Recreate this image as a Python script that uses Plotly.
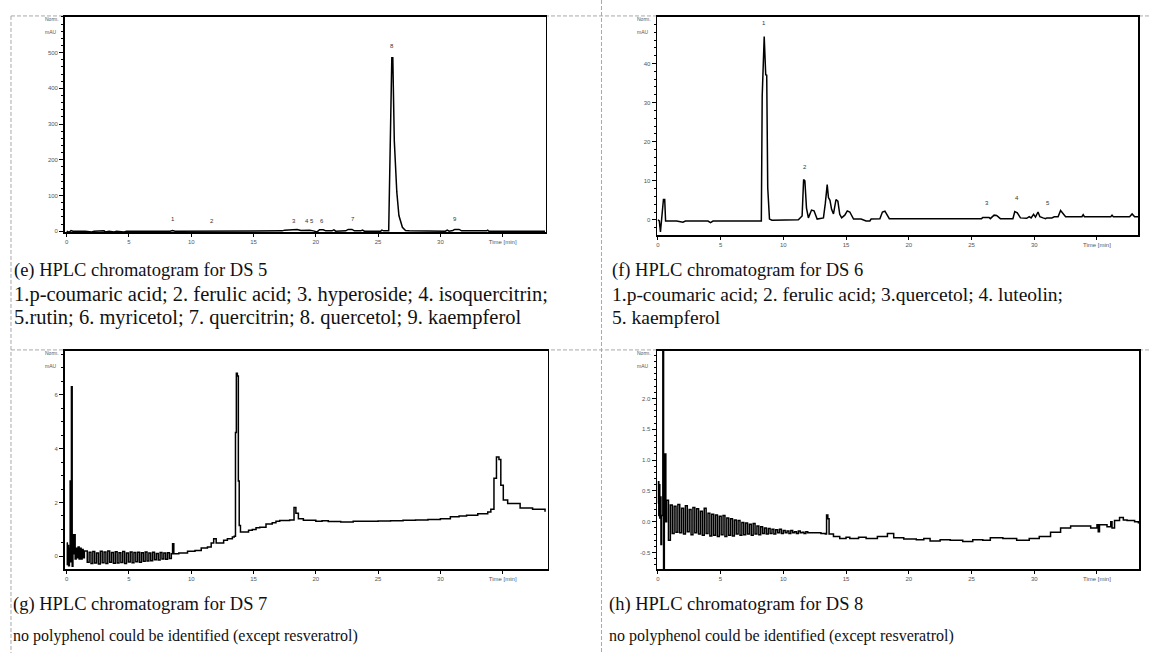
import plotly.graph_objects as go

W, H = 1151, 655

# ------------------------------------------------------------------ data
# (e) DS 5 : (time [min], signal [mAU])
ds5_points = [
    (0.0, 0), (0.2, -3), (0.35, 2), (0.5, 0), (1.5, 0), (2.0, -2), (2.2, 0), (3.0, 1),
    (3.1, -2), (3.4, 0), (3.8, -2), (4.0, 0), (4.6, -2), (4.8, 0), (8.3, 0), (8.5, 2),
    (8.7, 0), (11.5, 0), (11.65, 1.5), (11.8, 0), (13.0, 1), (17.3, 1), (17.5, 3),
    (18.2, 3), (18.5, 5), (18.8, 2), (19.5, 3), (19.8, 1), (20.1, -2), (20.3, 4),
    (20.6, 4), (20.8, 1), (21.3, 1), (21.45, 4), (21.6, 0), (22.4, 1), (22.6, 5),
    (22.9, 5), (23.1, 1), (23.6, 1), (23.75, 3), (23.9, 0), (25.2, 0), (25.3, 3),
    (25.45, 1), (25.85, 1), (25.95, 230), (26.1, 486), (26.18, 486), (26.3, 253),
    (26.5, 110), (26.67, 44), (26.95, 11), (27.2, 2), (27.5, 1), (29.5, 1), (29.7, -1),
    (30.4, 0), (30.55, 3), (30.7, 0), (31.0, 2), (31.15, 5), (31.5, 5), (31.7, 1),
    (33.7, 1), (33.8, 3), (33.9, 0), (38.4, 0),
]
ds5_peak_ids = ["1", "2", "3", "4", "5", "6", "7", "8", "9"]
ds5_peak_t = [8.5, 11.65, 18.25, 19.27, 19.7, 20.47, 22.95, 26.15, 31.15]
ds5_peak_y = [20, 16, 16, 16, 16, 16, 20, 505, 20]

# (f) DS 6
ds6_points = [
    (0.0, 0), (0.12, -0.3), (0.21, -3.1), (0.3, -0.5), (0.45, 5.2), (0.55, 5.2),
    (0.62, -0.3), (1.5, -0.3), (2.0, -0.6), (2.2, -0.3), (4.0, -0.3), (4.2, -0.7),
    (4.4, -0.3), (8.25, -0.3), (8.32, 31.6), (8.48, 46.9), (8.6, 37.1), (8.68, 37.0),
    (8.76, 8.2), (8.9, 0.2), (9.1, -0.1), (11.2, 0), (11.5, 1.0), (11.62, 10.3),
    (11.72, 10.0), (11.85, 3.0), (12.0, 0.5), (12.25, 2.5), (12.45, 2.3), (12.7, 0.2),
    (13.2, 0.5), (13.35, 4.2), (13.5, 9.0), (13.6, 5.7), (13.72, 5.0), (13.85, 2.7),
    (14.0, 1.5), (14.2, 5.2), (14.35, 4.8), (14.5, 1.4), (14.65, 0.5), (14.9, 1.2),
    (15.1, 2.3), (15.3, 2.0), (15.6, 0.2), (16.2, 0.2), (16.6, -0.3), (16.9, -0.3),
    (17.0, 0.2), (17.7, 0.3), (17.9, 2.0), (18.1, 2.2), (18.3, 1.0), (18.45, 0.3),
    (25.8, 0.3), (25.9, 0.6), (26.4, 0.6), (26.5, 0.3), (26.8, 1.2), (27.0, 1.1),
    (27.3, 0.3), (28.3, 0.3), (28.45, 2.1), (28.65, 1.8), (28.9, 0.5), (29.4, 0.4),
    (29.6, 0.8), (29.75, 0.5), (29.95, 1.4), (30.1, 0.7), (30.3, 2.0), (30.45, 0.8),
    (30.7, 0.5), (30.9, 0.3), (31.0, 0.5), (31.4, 0.5), (31.6, 0.8), (31.9, 0.8),
    (32.1, 2.4), (32.3, 1.5), (32.5, 0.8), (33.8, 0.8), (33.9, 1.3), (34.0, 0.8),
    (36.1, 0.8), (36.2, 1.2), (36.3, 0.8), (37.6, 0.8), (37.8, 1.5), (38.0, 0.8),
    (38.3, 0.8),
]
ds6_peak_ids = ["1", "2", "3", "4", "5"]
ds6_peak_t = [8.5, 11.7, 26.2, 28.6, 31.1]
ds6_peak_y = [49.0, 12.2, 2.9, 4.2, 2.9]

# (g) DS 7
ds7_points = [
    (0.0, 0.5), (0.05, -0.3), (0.1, 0.4), (0.15, -0.35), (0.22, 0.3), (0.28, 2.8),
    (0.33, -0.2), (0.38, 6.3), (0.44, -0.37), (0.5, 0.8), (0.56, 0.1), (0.62, 0.8),
    (0.68, -0.1), (0.76, 0.3), (0.84, -0.05), (0.92, 0.35), (1.0, -0.1), (1.08, 0.3),
    (1.16, -0.1), (1.24, 0.25), (1.32, -0.05), (1.42, 0.2),
    (1.50, 0.20), (1.65, -0.22), (1.80, 0.15), (1.95, -0.27), (2.10, 0.18), (2.25, -0.25),
    (2.40, 0.12), (2.55, -0.28), (2.70, 0.19), (2.85, -0.24), (3.00, 0.16), (3.15, -0.27),
    (3.30, 0.20), (3.45, -0.22), (3.60, 0.14), (3.75, -0.26), (3.90, 0.17), (4.05, -0.25),
    (4.20, 0.13), (4.35, -0.23), (4.50, 0.18), (4.65, -0.27), (4.80, 0.12), (4.95, -0.21),
    (5.10, 0.16), (5.25, -0.24), (5.40, 0.14), (5.55, -0.20), (5.70, 0.15), (5.85, -0.22),
    (6.00, 0.13), (6.15, -0.18), (6.30, 0.16), (6.45, -0.17), (6.60, 0.12), (6.75, -0.16),
    (6.90, 0.15), (7.05, -0.13), (7.20, 0.11), (7.35, -0.14), (7.50, 0.14), (7.65, -0.10),
    (7.80, 0.12), (7.95, -0.11), (8.10, 0.13), (8.25, -0.08), (8.40, 0.10),
    (8.45, 0.1), (8.5, 0.47), (8.6, 0.1), (9.0, 0.12), (9.7, 0.19), (10.3, 0.22),
    (10.8, 0.31), (11.3, 0.35), (11.6, 0.5), (11.8, 0.65), (12.0, 0.5), (12.3, 0.5),
    (12.6, 0.6), (12.9, 0.65), (13.3, 0.72), (13.45, 0.75), (13.55, 4.6), (13.62, 6.8),
    (13.7, 6.7), (13.78, 2.8), (13.85, 1.15), (13.95, 0.9), (14.3, 0.9), (14.6, 0.97),
    (14.9, 1.0), (15.2, 1.06), (15.5, 1.08), (16.0, 1.2), (16.5, 1.25), (16.8, 1.3),
    (17.1, 1.33), (17.9, 1.35), (18.15, 1.35), (18.25, 1.81), (18.4, 1.6), (18.6, 1.4),
    (19.0, 1.34), (20.0, 1.3), (20.5, 1.32), (21.0, 1.29), (22.0, 1.28), (23.0, 1.3),
    (24.0, 1.3), (25.0, 1.31), (26.0, 1.32), (27.0, 1.34), (28.0, 1.35), (29.0, 1.37),
    (30.0, 1.4), (30.8, 1.47), (31.5, 1.5), (32.1, 1.53), (33.0, 1.58), (33.8, 1.65),
    (34.05, 1.75), (34.3, 2.9), (34.5, 3.69), (34.7, 3.6), (34.85, 2.64), (35.05, 2.09),
    (35.4, 1.96), (36.4, 1.8), (37.4, 1.75), (38.4, 1.66),
]

# (h) DS 8
ds8_points = [
    (0.0, 0.3), (0.04, 0.65), (0.08, 0.1), (0.12, 0.6), (0.16, 0.06), (0.2, 0.4),
    (0.25, -0.37), (0.3, 0.1), (0.4, 3.5), (0.46, -1.0), (0.52, 0.2), (0.58, 1.1),
    (0.64, 0.0),
    (0.70, 0.35), (0.85, -0.30), (1.00, 0.27), (1.15, -0.19), (1.30, 0.25), (1.45, -0.17),
    (1.60, 0.28), (1.75, -0.18), (1.90, 0.22), (2.05, -0.20), (2.20, 0.26), (2.35, -0.16),
    (2.50, 0.20), (2.65, -0.21), (2.80, 0.23), (2.95, -0.18), (3.10, 0.21), (3.25, -0.20),
    (3.40, 0.17), (3.55, -0.22), (3.70, 0.22), (3.85, -0.19), (4.00, 0.14), (4.15, -0.23),
    (4.30, 0.12), (4.45, -0.22), (4.60, 0.11), (4.75, -0.24), (4.90, 0.09), (5.05, -0.21),
    (5.20, 0.10), (5.35, -0.24), (5.50, 0.06), (5.65, -0.22), (5.80, 0.05), (5.95, -0.23),
    (6.10, 0.03), (6.25, -0.20), (6.40, 0.02), (6.55, -0.22), (6.70, -0.01), (6.85, -0.21),
    (7.00, -0.02), (7.15, -0.20), (7.30, -0.04), (7.45, -0.22), (7.60, -0.03), (7.75, -0.20),
    (7.90, -0.07), (8.05, -0.21), (8.20, -0.08), (8.35, -0.19), (8.50, -0.10), (8.65, -0.20),
    (8.80, -0.11), (8.95, -0.19), (9.10, -0.12), (9.25, -0.20), (9.40, -0.13), (9.55, -0.18),
    (9.70, -0.12), (9.85, -0.19), (10.00, -0.14), (10.15, -0.18), (10.30, -0.15), (10.45, -0.19),
    (10.60, -0.14), (10.75, -0.18), (10.90, -0.16), (11.05, -0.19), (11.20, -0.15), (11.35, -0.18),
    (11.50, -0.17), (11.65, -0.19), (11.80, -0.16), (11.95, -0.18),
    (12.5, -0.18), (13.0, -0.19), (13.35, -0.2), (13.45, 0.11), (13.55, 0.05),
    (13.65, -0.2), (14.0, -0.24), (14.5, -0.27), (15.0, -0.25), (15.3, -0.27),
    (16.0, -0.25), (16.6, -0.27), (17.5, -0.24), (18.3, -0.19), (18.8, -0.26),
    (19.6, -0.28), (20.6, -0.29), (21.2, -0.27), (21.7, -0.31), (22.5, -0.29),
    (23.3, -0.3), (24.3, -0.32), (25.1, -0.29), (25.9, -0.3), (26.5, -0.26),
    (27.5, -0.27), (28.6, -0.3), (29.6, -0.27), (30.4, -0.24), (31.3, -0.17),
    (32.1, -0.1), (32.9, -0.07), (33.9, -0.07), (34.5, -0.1), (35.0, -0.05),
    (35.1, -0.16), (35.2, -0.05), (35.8, -0.08), (36.1, 0.0), (36.2, -0.1),
    (36.4, 0.02), (36.8, 0.07), (37.1, 0.03), (37.4, 0.02), (38.0, 0.0), (38.3, -0.03),
]

# axis ticks
time_ticks = [0, 5, 10, 15, 20, 25, 30, 35]
time_labels = ["0", "5", "10", "15", "20", "25", "30", "Time [min]"]
ds5_yticks = [0, 100, 200, 300, 400, 500]
ds6_yticks = [0, 10, 20, 30, 40]
ds7_yticks = [0, 2, 4, 6]
ds8_yticks = [-0.5, 0.0, 0.5, 1.0, 1.5, 2.0]
ds8_ylabels = ["-0.5", "0.0", "0.5", "1.0", "1.5", "2.0"]

# captions
cap_e = ["(e) HPLC chromatogram for DS 5",
         "1.p-coumaric acid; 2. ferulic acid; 3. hyperoside; 4. isoquercitrin;",
         "5.rutin; 6. myricetol; 7. quercitrin; 8. quercetol; 9. kaempferol"]
cap_f = ["(f) HPLC chromatogram for DS 6",
         "1.p-coumaric acid; 2. ferulic acid; 3.quercetol; 4. luteolin;",
         "5. kaempferol"]
cap_g = ["(g) HPLC chromatogram for DS 7",
         "no polyphenol could be identified (except resveratrol)"]
cap_h = ["(h) HPLC chromatogram for DS 8",
         "no polyphenol could be identified (except resveratrol)"]


# ------------------------------------------------------------------ helpers
def px(xp):
    return xp / W


def py(yp):
    return 1 - yp / H


def unzip(points):
    return [p[0] for p in points], [p[1] for p in points]


fig = go.Figure()

panels = [
    # points, xaxis, yaxis, x-domain px, y-domain px (top, bottom), xrange, yrange, line shape
    (ds5_points, "x", "y", (64, 545), (17, 233), [-0.14, 38.44], [-3, 600], "linear"),
    (ds6_points, "x2", "y2", (657, 1138), (17, 236), [-0.03, 38.27], [-3.95, 51.9], "linear"),
    (ds7_points, "x3", "y3", (64, 547), (352, 571), [-0.14, 38.6], [-0.48, 7.63], "hv"),
    (ds8_points, "x4", "y4", (657, 1139), (352, 571), [-0.03, 38.35], [-0.77, 2.77], "hv"),
]
yticks = [
    (ds5_yticks, [str(v) for v in ds5_yticks], 20),
    (ds6_yticks, [str(v) for v in ds6_yticks], 2),
    (ds7_yticks, [str(v) for v in ds7_yticks], 0.5),
    (ds8_yticks, ds8_ylabels, 0.1),
]

tickfont = dict(family="Liberation Sans", size=6, color="#555")
layout_axes = {}
for i, (pts, xa, ya, xd, yd, xr, yr, shp) in enumerate(panels):
    t, v = unzip(pts)
    fig.add_trace(go.Scatter(x=t, y=v, mode="lines", xaxis=xa, yaxis=ya,
                             line=dict(color="black", width=1.5, shape=shp),
                             showlegend=False, hoverinfo="skip"))
    n = "" if i == 0 else str(i + 1)
    layout_axes["xaxis" + n] = dict(
        domain=[px(xd[0]), px(xd[1])], range=xr, anchor=ya,
        showline=True, linecolor="black", linewidth=1.8, mirror=True,
        ticks="outside", ticklen=3, tickcolor="black", tickwidth=1,
        tickvals=time_ticks, ticktext=time_labels, tickfont=tickfont,
        showgrid=False, zeroline=False, fixedrange=True)
    tv, tt, mdt = yticks[i]
    layout_axes["yaxis" + n] = dict(
        domain=[py(yd[1]), py(yd[0])], range=yr, anchor=xa,
        showline=True, linecolor="black", linewidth=1.8, mirror=True,
        ticks="outside", ticklen=4, tickcolor="black", tickwidth=1,
        tickvals=tv, ticktext=tt, tickfont=tickfont,
        minor=dict(ticks="outside", ticklen=2, dtick=mdt, tick0=0,
                   tickcolor="black", tickwidth=1),
        showgrid=False, zeroline=False, fixedrange=True)

fig.update_layout(**layout_axes)

annotations = []
small = dict(family="Liberation Sans", size=5, color="#555")
# Norm. / mAU labels
for (pts, xa, ya, xd, yd, xr, yr, shp) in panels:
    annotations.append(dict(text="Norm.", xref="paper", yref="paper",
                            x=px(xd[0] - 4), y=py(yd[0] + 2), xanchor="right",
                            yanchor="middle", showarrow=False, font=small))
    annotations.append(dict(text="mAU", xref="paper", yref="paper",
                            x=px(xd[0] - 6), y=py(yd[0] + 15), xanchor="right",
                            yanchor="middle", showarrow=False, font=small))

# peak labels
for ids, ts, ys, xa, ya in [(ds5_peak_ids, ds5_peak_t, ds5_peak_y, "x", "y"),
                            (ds6_peak_ids, ds6_peak_t, ds6_peak_y, "x2", "y2")]:
    for s, tx, yv in zip(ids, ts, ys):
        annotations.append(dict(text=s, xref=xa, yref=ya, x=tx, y=yv,
                                showarrow=False, yanchor="bottom",
                                font=dict(family="Liberation Sans", size=6, color="#333")))

# captions
serif = "Liberation Serif"


def cap(text, xp, yp, size):
    annotations.append(dict(text=text, xref="paper", yref="paper", x=px(xp), y=py(yp),
                            xanchor="left", yanchor="middle", showarrow=False,
                            font=dict(family=serif, size=size, color="#111")))


cap(cap_e[0], 11, 271, 18.5)
cap(cap_e[1], 11, 295, 20.5)
cap(cap_e[2], 11, 318, 20.5)
cap(cap_f[0], 610, 271, 18.5)
cap(cap_f[1], 610, 295, 19.5)
cap(cap_f[2], 610, 318, 19.5)
cap(cap_g[0], 10, 606, 18.5)
cap(cap_g[1], 10, 638, 16)
cap(cap_h[0], 607, 606, 18.5)
cap(cap_h[1], 607, 638, 16)

# dashed separators
shapes = []
dash_line = dict(color="#a8a8a8", width=1, dash="4px,2px")
for x0, y0, x1, y1 in [(10, 16, 1151, 16), (10, 351, 1151, 351),
                       (10, 16, 10, 655), (601, 0, 601, 655)]:
    shapes.append(dict(type="line", xref="paper", yref="paper",
                       x0=px(x0), y0=py(y0), x1=px(x1), y1=py(y1),
                       line=dash_line, layer="below"))

fig.update_layout(width=W, height=H, margin=dict(l=0, r=0, t=0, b=0),
                  paper_bgcolor="white", plot_bgcolor="white",
                  annotations=annotations, shapes=shapes, showlegend=False)

fig.write_html("out.html",
               config={"displayModeBar": False, "staticPlot": True},
               post_script="document.body.style.margin='0px';"
                           "document.body.style.overflow='hidden';")
